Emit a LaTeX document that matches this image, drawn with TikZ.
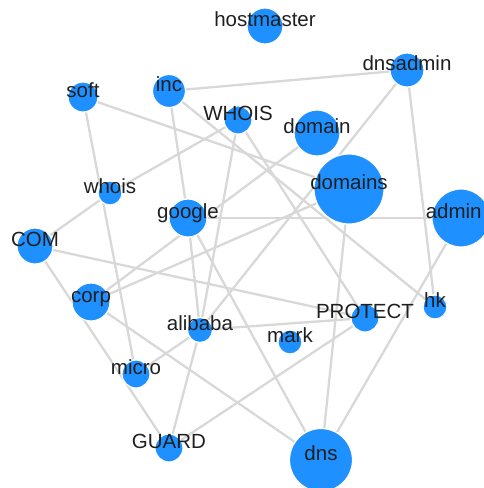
\documentclass[tikz,border=0pt]{standalone}
\usepackage{fontspec}
\setmainfont{Liberation Sans}
\usetikzlibrary{backgrounds}

\definecolor{nodeblue}{RGB}{30,144,255}
\definecolor{linkgray}{RGB}{216,216,216}

\begin{document}
\begin{tikzpicture}[x=0.5pt, y=-0.5pt,
        bub/.style={circle, fill=nodeblue, draw=white, line width=0.6pt, inner sep=0pt, minimum size=#1pt},
        link/.style={draw=linkgray, line width=1.15pt},
        word/.style={anchor=base, inner sep=0pt, text=black!88, font=\fontsize{10.25}{12}\selectfont}]
        \useasboundingbox (0,0) rectangle (483,488);

        \node[bub=18] (hostmaster) at (265,26) {};
        \node[bub=17] (dnsadmin) at (407,70) {};
        \node[bub=15] (soft) at (83,97) {};
        \node[bub=16.5] (inc) at (169,91) {};
        \node[bub=14] (WHOIS) at (238,120) {};
        \node[bub=23] (domain) at (317,133) {};
        \node[bub=35] (domains) at (349,189) {};
        \node[bub=29] (admin) at (461,218) {};
        \node[bub=12] (whois) at (110,193) {};
        \node[bub=19] (google) at (188,218) {};
        \node[bub=18] (COM) at (35,246) {};
        \node[bub=19] (corp) at (91,302) {};
        \node[bub=12.5] (alibaba) at (200,330) {};
        \node[bub=12] (mark) at (290,342) {};
        \node[bub=14] (PROTECT) at (365,318) {};
        \node[bub=12] (hk) at (435,307) {};
        \node[bub=14] (micro) at (136,374) {};
        \node[bub=14] (GUARD) at (169,448) {};
        \node[bub=31.5] (dns) at (321,460) {};

        \begin{scope}[on background layer]
        \path
            (soft) edge[link] (domains)
            (soft) edge[link] (micro)
            (inc) edge[link] (dnsadmin)
            (inc) edge[link] (google)
            (inc) edge[link] (hk)
            (WHOIS) edge[link] (whois)
            (whois) edge[link] (COM)
            (WHOIS) edge[link] (alibaba)
            (WHOIS) edge[link] (PROTECT)
            (dnsadmin) edge[link] (hk)
            (dnsadmin) edge[link] (alibaba)
            (google) edge[link] (admin)
            (google) edge[link] (dns)
            (google) edge[link] (alibaba)
            (domains) edge[link] (dns)
            (admin) edge[link] (dns)
            (corp) edge[link] (domain)
            (corp) edge[link] (domains)
            (corp) edge[link] (dns)
            (COM) edge[link] (PROTECT)
            (COM) edge[link] (GUARD)
            (alibaba) edge[link] (PROTECT)
            (alibaba) edge[link] (GUARD)
            (alibaba) edge[link] (micro)
            (GUARD) edge[link] (PROTECT);
        \end{scope}

        % labels sit on the circles
        \foreach \n in {hostmaster, dnsadmin, soft, inc, WHOIS, domain, domains, whois,
                        google, COM, corp, alibaba, mark, PROTECT, hk, micro, GUARD, dns}
            \node[word] (\n-txt) at (\n) {\n};
        \node[word, anchor=base east] (admin-txt) at ([xshift=10.5pt]admin.center) {admin};
\end{tikzpicture}
\end{document}
